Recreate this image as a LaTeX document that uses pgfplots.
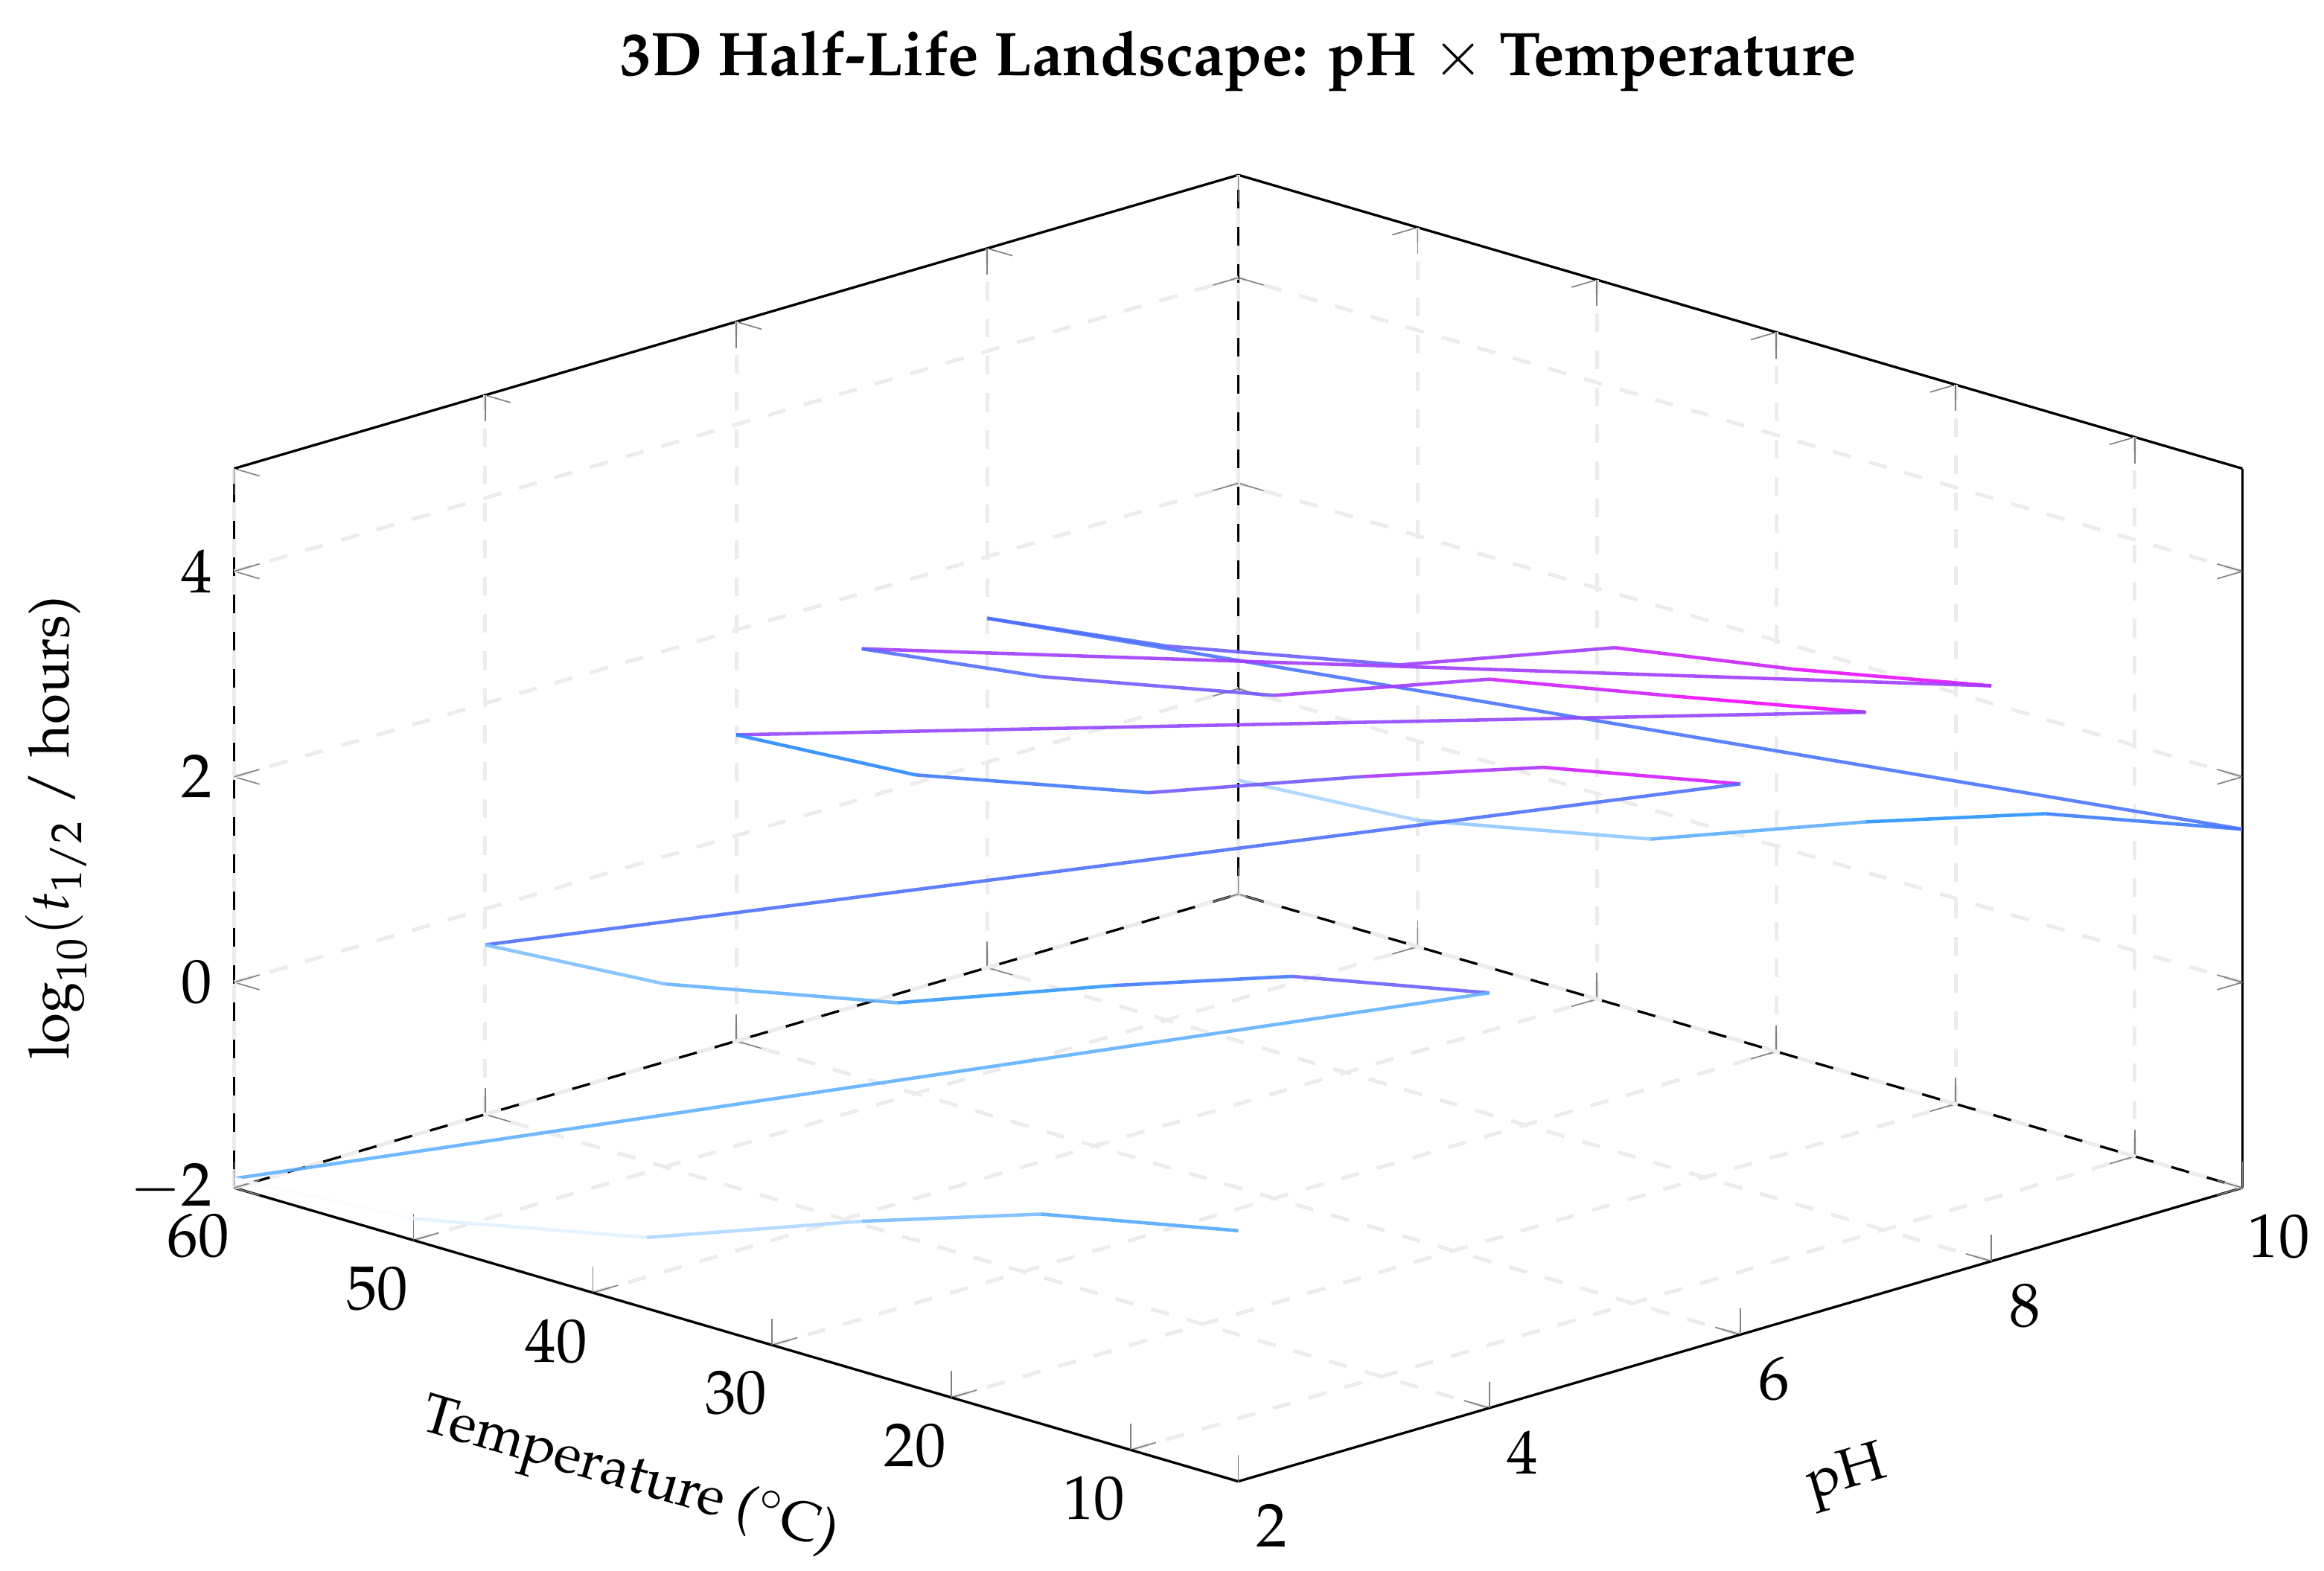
\documentclass[border=0pt]{standalone}
\usepackage[T1]{fontenc}
\usepackage{mathpazo}
\renewcommand{\rmdefault}{ppl}
\usepackage{pgfplots}
\pgfplotsset{compat=1.18}

\pgfplotstableread{
pH T z
2 4 0.44
2 15 0.04
2 25 -0.54
2 37 -1.31
2 50 -1.79
2 60 -1.91
4 4 2.04
4 15 1.64
4 25 1.04
4 37 0.26
4 50 -0.22
4 60 -0.35
6 4 3.36
6 15 2.96
6 25 2.36
6 37 1.59
6 50 1.10
6 60 0.98
7 4 3.70
7 15 3.30
7 25 2.95
7 37 2.18
7 50 1.70
7 60 1.46
8 4 3.60
8 15 3.20
8 25 2.90
8 37 2.12
8 50 1.64
8 60 1.40
10 4 1.49
10 15 1.08
10 25 0.49
10 37 -0.29
10 50 -0.77
10 60 -0.89
}\halflife

\begin{document}
\begin{tikzpicture}
\begin{axis}[
    scale only axis,
    width=325pt,
    height=211.5pt,
    view={-45}{30},
    title={\textbf{3D Half-Life Landscape: pH $\times$ Temperature}},
    title style={yshift=4pt},
    xlabel={pH},
    ylabel={Temperature ($^\circ$C)},
    zlabel={$\log_{10}(t_{1/2}$ / hours)},
    label style={font=\small},
    xlabel style={sloped},
    ylabel style={sloped},
    xmin=2, xmax=10,
    ymin=4, ymax=60,
    zmin=-2, zmax=5,
    xtick={2,4,6,8,10},
    ytick={10,20,30,40,50,60},
    ztick={-2,0,2,4},
    grid=major,
    grid style={dashed,gray!15,line width=0.6pt},
    colormap={halflife}{rgb255=(255,255,255) rgb255=(30,144,255) rgb255=(255,0,255)},
]
\addplot3[mesh, mesh/rows=1, line width=0.55pt, opacity=0.9] table[x=pH, y=T, z=z] {\halflife};
\end{axis}
% page margins around the box, as in the reference
\pgfresetboundingbox
\path[use as bounding box] (-37.9pt,-14.4pt) rectangle (338.2pt,239.8pt);
\end{tikzpicture}
\end{document}
